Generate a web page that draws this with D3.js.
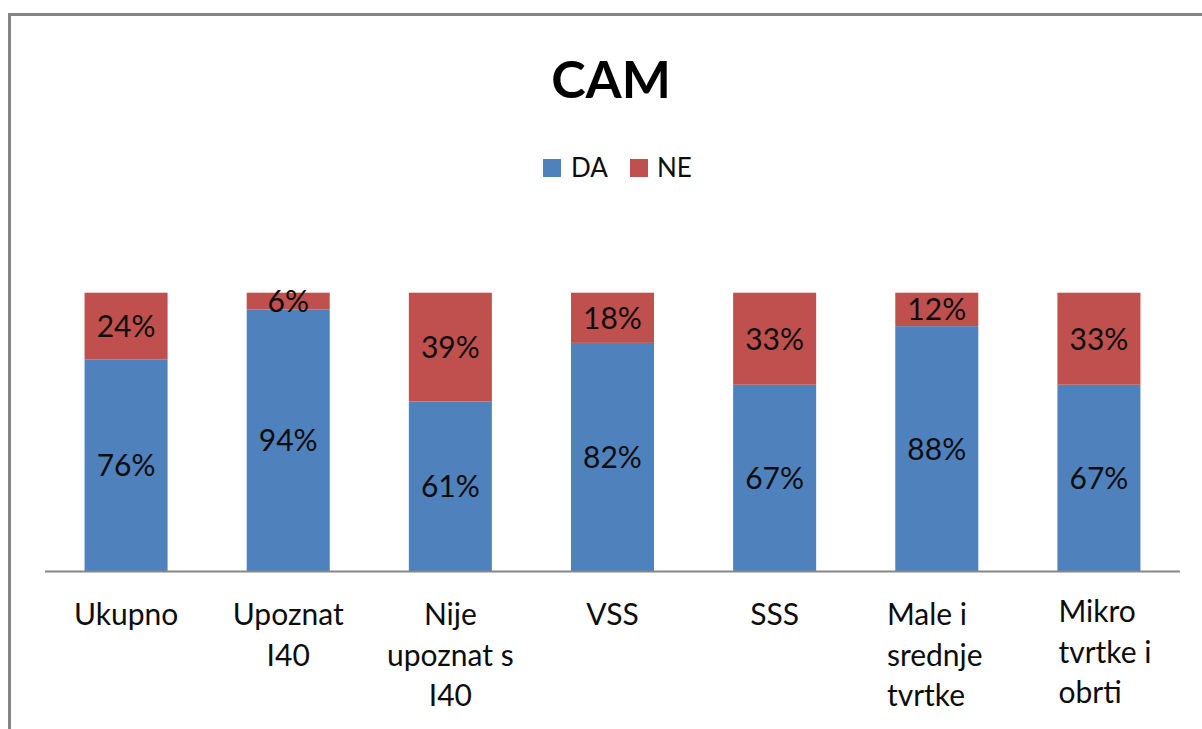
<!DOCTYPE html>
<html>
<head>
<meta charset="utf-8">
<script src="https://cdn.jsdelivr.net/npm/d3@7"></script>
<style>
  html, body { margin: 0; padding: 0; background: #fff; }
  svg { display: block; font-family: Lato, "Open Sans", sans-serif; }
</style>
</head>
<body>
<svg id="chart" width="1202" height="729"></svg>
<script>
const categories = [
  ["Ukupno"],
  ["Upoznat", "I40"],
  ["Nije", "upoznat s", "I40"],
  ["VSS"],
  ["SSS"],
  ["Male i", "srednje", "tvrtke"],
  ["Mikro", "tvrtke i", "obrti"]
];
const seriesNames = ["DA", "NE"];
const daValues = [76, 94, 61, 82, 67, 88, 67];
const neValues = [24, 6, 39, 18, 33, 12, 33];
const colors = ["#4F81BD", "#C0504D"];

const svg = d3.select("#chart");
const W = 1202, H = 729;

// outer frame (extends past right/bottom edge)
svg.append("rect")
  .attr("x", 9.5).attr("y", 14.5)
  .attr("width", W + 20).attr("height", H + 20)
  .attr("fill", "#fff").attr("stroke", "#858585").attr("stroke-width", 3);

const plotLeft = 45, plotRight = 1180, plotTop = 292.7, plotBottom = 571.5;

const x = d3.scaleBand()
  .domain(d3.range(categories.length))
  .range([plotLeft, plotRight])
  .paddingInner(0.488)
  .paddingOuter(0.244);

const y = d3.scaleLinear().domain([0, 100]).range([plotBottom, plotTop]);

const rows = categories.map((c, i) => ({ i, DA: daValues[i], NE: neValues[i] }));
const stack = d3.stack().keys(seriesNames)(rows);

const g = svg.append("g");
stack.forEach((layer, k) => {
  g.selectAll(null).data(layer).enter().append("rect")
    .attr("x", d => x(d.data.i))
    .attr("width", x.bandwidth())
    .attr("y", d => y(d[1]))
    .attr("height", d => y(d[0]) - y(d[1]))
    .attr("fill", colors[k]);
});

// data labels
stack.forEach((layer, k) => {
  g.selectAll(null).data(layer).enter().append("text")
    .attr("x", d => x(d.data.i) + x.bandwidth() / 2)
    .attr("y", d => (y(d[0]) + y(d[1])) / 2 + 10.8)
    .attr("text-anchor", "middle")
    .attr("font-size", 30)
    .attr("fill", "#0d0d0d")
    .text(d => (d[1] - d[0]) + "%");
});

// x axis line
svg.append("line")
  .attr("x1", plotLeft).attr("x2", plotRight)
  .attr("y1", plotBottom).attr("y2", plotBottom)
  .attr("stroke", "#868686").attr("stroke-width", 2);

// category labels
const axisG = svg.append("g");
categories.forEach((lines, i) => {
  const cx = x(i) + x.bandwidth() / 2;
  const leftAlign = i >= 5;
  const t = axisG.append("text")
    .attr("font-size", 30)
    .attr("fill", "#0d0d0d")
    .attr("text-anchor", leftAlign ? "start" : "middle");
  lines.forEach((ln, j) => {
    t.append("tspan").attr("x", cx).attr("y", (i === 6 ? 622 : 625) + j * 40.7).text(ln);
  });
  if (leftAlign) {
    const bb = t.node().getBBox();
    const shift = (i === 6 ? 6 : -2);
    t.selectAll("tspan").attr("x", cx - bb.width / 2 + shift);
  }
});

// title
svg.append("text")
  .attr("x", 611).attr("y", 98)
  .attr("text-anchor", "middle")
  .attr("font-size", 52).attr("font-weight", "bold")
  .attr("fill", "#000")
  .text("CAM");

// legend
const legendItems = [{ name: "DA", sx: 543, tx: 571 }, { name: "NE", sx: 630, tx: 657 }];
legendItems.forEach((it, k) => {
  svg.append("rect").attr("x", it.sx).attr("y", 159).attr("width", 18).attr("height", 18).attr("fill", colors[k]);
  svg.append("text").attr("x", it.tx).attr("y", 177).attr("font-size", 26).attr("fill", "#0d0d0d").text(seriesNames[k]);
});
</script>
</body>
</html>
